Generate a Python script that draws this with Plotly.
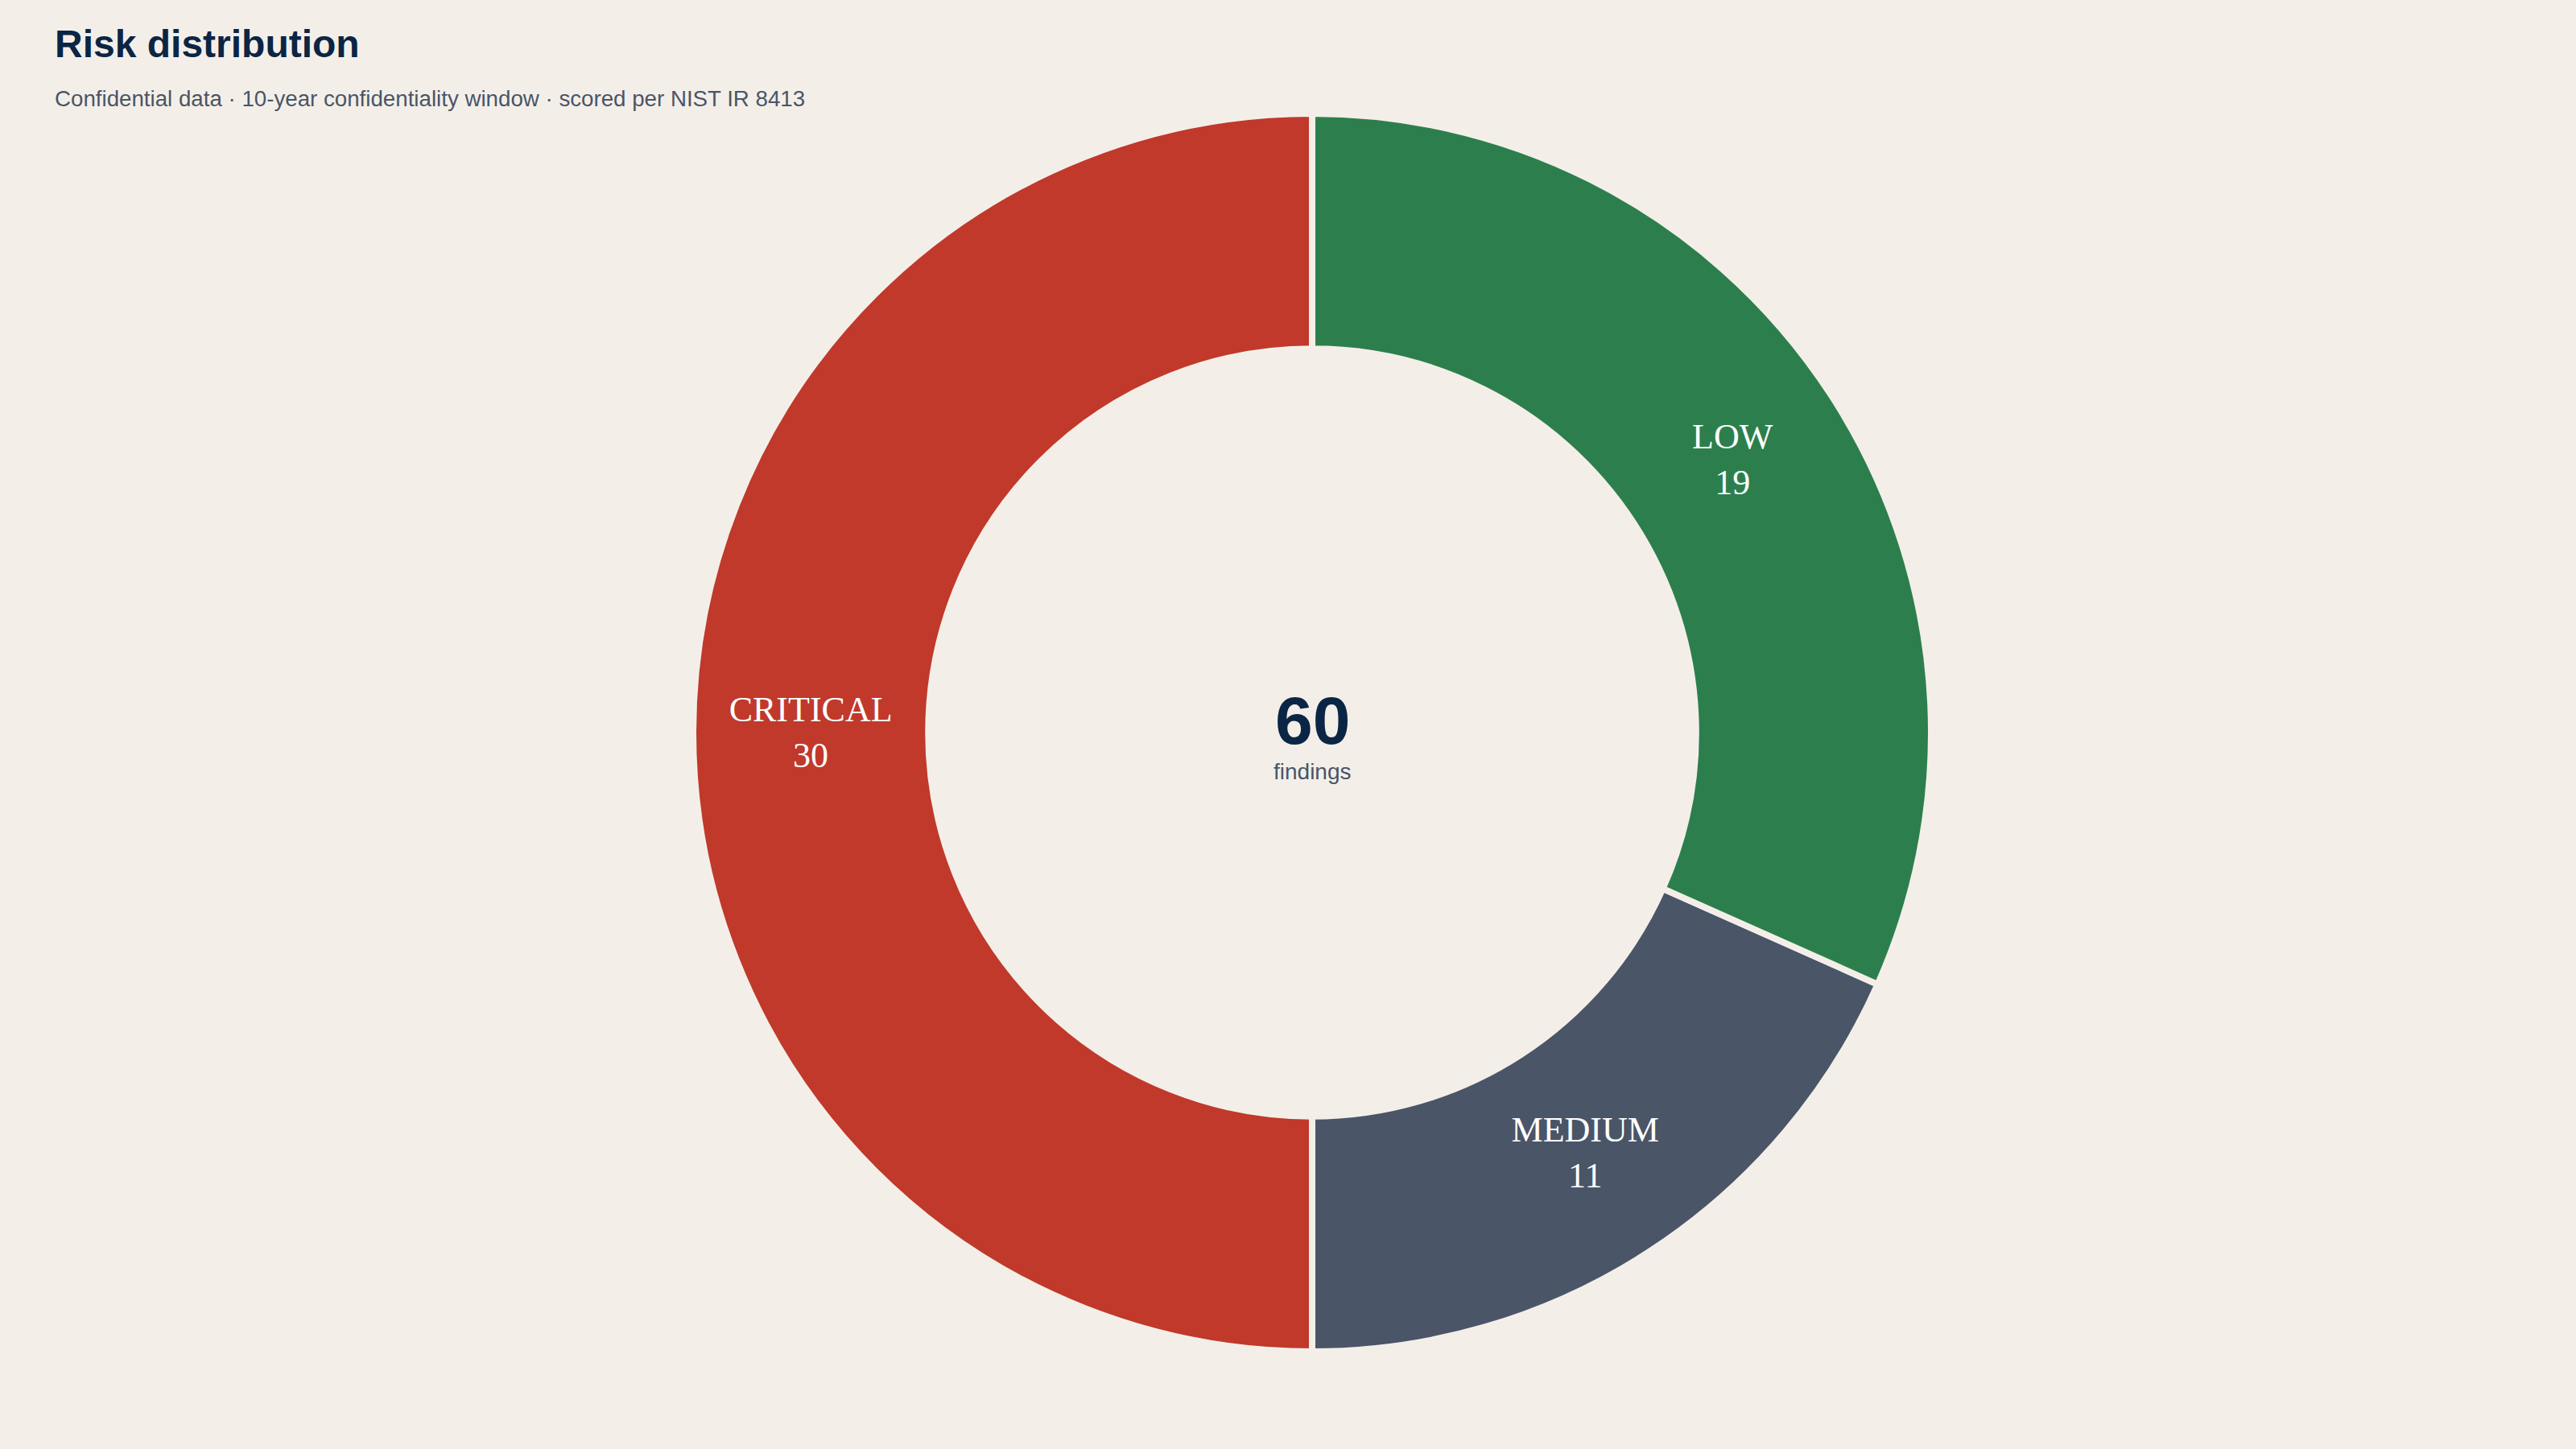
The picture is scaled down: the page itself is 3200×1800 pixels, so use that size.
import plotly.graph_objects as go

categories = ["CRITICAL", "MEDIUM", "LOW"]
counts = [30, 11, 19]
colors = ["#C0392B", "#4A5568", "#2C7F4D"]
total_label = "60"
total_caption = "findings"
title_text = "Risk distribution"
subtitle_text = "Confidential data · 10-year confidentiality window · scored per NIST IR 8413"

BG = "#F3EFE8"
NAVY = "#0B2545"
SLATE = "#4A5568"

fig = go.Figure(
    go.Pie(
        labels=categories,
        values=counts,
        hole=0.62,
        sort=False,
        direction="counterclockwise",
        rotation=180,
        marker=dict(colors=colors, line=dict(color=BG, width=8)),
        textinfo="label+value",
        textposition="inside",
        insidetextorientation="horizontal",
        textfont=dict(family="Liberation Serif", size=44, color="#FFFFFF"),
        showlegend=False,
        hoverinfo="label+value+percent",
    )
)

fig.update_layout(
    width=3200,
    height=1800,
    paper_bgcolor=BG,
    plot_bgcolor=BG,
    margin=dict(l=60, r=0, t=141, b=121),
    annotations=[
        dict(text=f"<b>{title_text}</b>", xref="paper", yref="paper", x=0.0019, y=1.0565,
             xanchor="left", yanchor="middle", showarrow=False,
             font=dict(family="Liberation Sans", size=48, color=NAVY)),
        dict(text=subtitle_text, xref="paper", yref="paper", x=0.0019, y=1.0119,
             xanchor="left", yanchor="middle", showarrow=False,
             font=dict(family="Liberation Sans", size=27.7, color=SLATE)),
        dict(text=f"<b>{total_label}</b>", xref="paper", yref="paper", x=0.5, y=0.5098,
             xanchor="center", yanchor="middle", showarrow=False,
             font=dict(family="Liberation Sans", size=84, color=NAVY)),
        dict(text=total_caption, xref="paper", yref="paper", x=0.5, y=0.4686,
             xanchor="center", yanchor="middle", showarrow=False,
             font=dict(family="Liberation Sans", size=28, color=SLATE)),
    ],
)

fig.write_html(
    "out.html",
    config={"displayModeBar": False},
    post_script="document.body.style.margin='0';document.body.style.overflow='hidden';document.body.style.background='" + BG + "';",
)
